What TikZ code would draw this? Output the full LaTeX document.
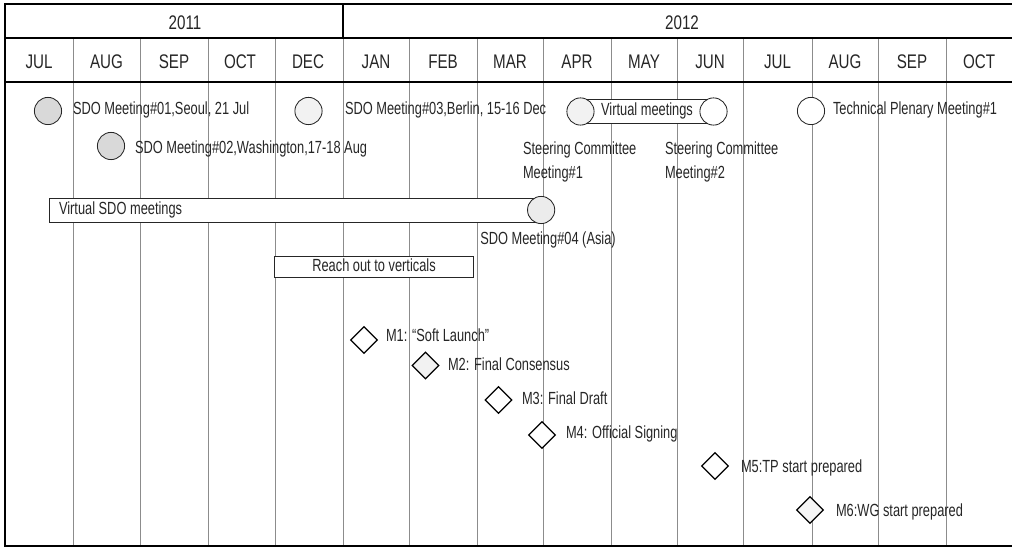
\documentclass[tikz,border=0pt]{standalone}
\usepackage{fontspec}
\setmainfont{Liberation Sans}[FakeStretch=0.73]
\newfontfamily\hdrfont{Liberation Sans}[FakeStretch=0.77]
\usetikzlibrary{shapes.geometric}
\begin{document}
\begin{tikzpicture}[x=0.025cm,y=-0.025cm,
  every node/.style={inner sep=0pt, outer sep=0pt, text=black!85},
  body/.style={font=\fontsize{12.5}{17}\selectfont},
  hdr/.style={font=\hdrfont\fontsize{14}{16}\selectfont},
  mtg/.style={circle, draw=black!85, line width=0.6pt, minimum size=0.68cm},
  ms/.style={diamond, draw=black, line width=0.9pt, fill=white, minimum size=0.66cm},
  barbox/.style={rectangle, draw=black!85, line width=0.7pt, fill=white, body, text height=9pt, text depth=2.6pt},
  gridline/.style={draw=black!45, line width=0.45pt},
  framestyle/.style={draw=black, line width=1.5pt, line join=miter}]
\useasboundingbox (0,0) rectangle (1012,550);
\clip (0,0) rectangle (1012,550);
% grid
\foreach \x in {73,140,208,275,343,409,477,543,611,677,743,812,878,946}
  \draw[gridline] (\x,38) -- (\x,546);
\draw[framestyle] (343,4) -- (343,38);
\draw[framestyle] (1030,4) -- (5,4) -- (5,546) -- (1030,546);
\draw[framestyle] (5,38) -- (1030,38);
\draw[framestyle] (5,82) -- (1030,82);
% header
\node[hdr] (y2011) at (185,22.5) {2011};
\node[hdr] (y2012) at (682,22.5) {2012};
\foreach \m/\x [count=\i] in {JUL/39,AUG/106.5,SEP/174,OCT/240,DEC/308,JAN/376,FEB/443,MAR/510,APR/577,MAY/644,JUN/710,JUL/777.5,AUG/845,SEP/912,OCT/979}
  \node[hdr] (mon\i) at (\x,61.5) {\m};
% meetings row 1
\node[mtg, fill=gray!30] (c1) at (48,111) {};
\node[body, anchor=base west] (t1) at (73,114.5) {SDO Meeting\#01,Seoul, 21 Jul};
\node[mtg, fill=gray!10] (c3) at (308.5,111) {};
\node[body, anchor=base west] (t3) at (345,114.5) {SDO Meeting\#03,Berlin, 15-16 Dec};
\node[barbox, minimum width=3.325cm, minimum height=0.6cm] (vm) at (647,111.5) {Virtual meetings};
\node[mtg, fill=gray!10] (vm1) at (vm.west) {};
\node[mtg, fill=white] (vm2) at (vm.east) {};
\node[mtg, fill=white] (c5) at (811,111) {};
\node[body, anchor=base west] (t5) at (833,114.5) {Technical Plenary Meeting\#1};
% row 2
\node[mtg, fill=gray!30] (c2) at (111,146) {};
\node[body, anchor=base west] (t2) at (135,154) {SDO Meeting\#02,Washington,17-18 Aug};
\node[body, align=left, anchor=north west] (sc1) at (523,142) {Steering Committee\\Meeting\#1};
\node[body, align=left, anchor=north west] (sc2) at (665,142) {Steering Committee\\Meeting\#2};
% virtual SDO bar
\node[barbox, minimum width=12.3cm, minimum height=0.6cm, anchor=west] (vsdo) at (49,210) {};
\node[body, anchor=base west] (vsdot) at (59,215) {Virtual SDO meetings};
\node[mtg, fill=gray!15] (c4) at (vsdo.east) {};
\node[body, anchor=base] (t4) at (548,245) {SDO Meeting\#04 (Asia)};
% reach out
\node[barbox, minimum width=4.95cm, minimum height=0.53cm] (reach) at (374,267) {Reach out to verticals};
% milestones
\node[ms] (d1) at (364,340) {};
\node[body, anchor=base west] (l1) at (386,341.5) {M1: “Soft Launch”};
\node[ms, fill=gray!10] (d2) at (425.5,365.5) {};
\node[body, anchor=base west] (l2) at (448,370.5) {M2: Final Consensus};
\node[ms] (d3) at (498.5,400) {};
\node[body, anchor=base west] (l3) at (522,404) {M3: Final Draft};
\node[ms] (d4) at (542,435) {};
\node[body, anchor=base west] (l4) at (566,438.5) {M4: Official Signing};
\node[ms] (d5) at (715,466) {};
\node[body, anchor=base west] (l5) at (741,472.5) {M5:TP start prepared};
\node[ms, fill=gray!6] (d6) at (810,510) {};
\node[body, anchor=base west] (l6) at (836,516.5) {M6:WG start prepared};
\end{tikzpicture}
\end{document}
